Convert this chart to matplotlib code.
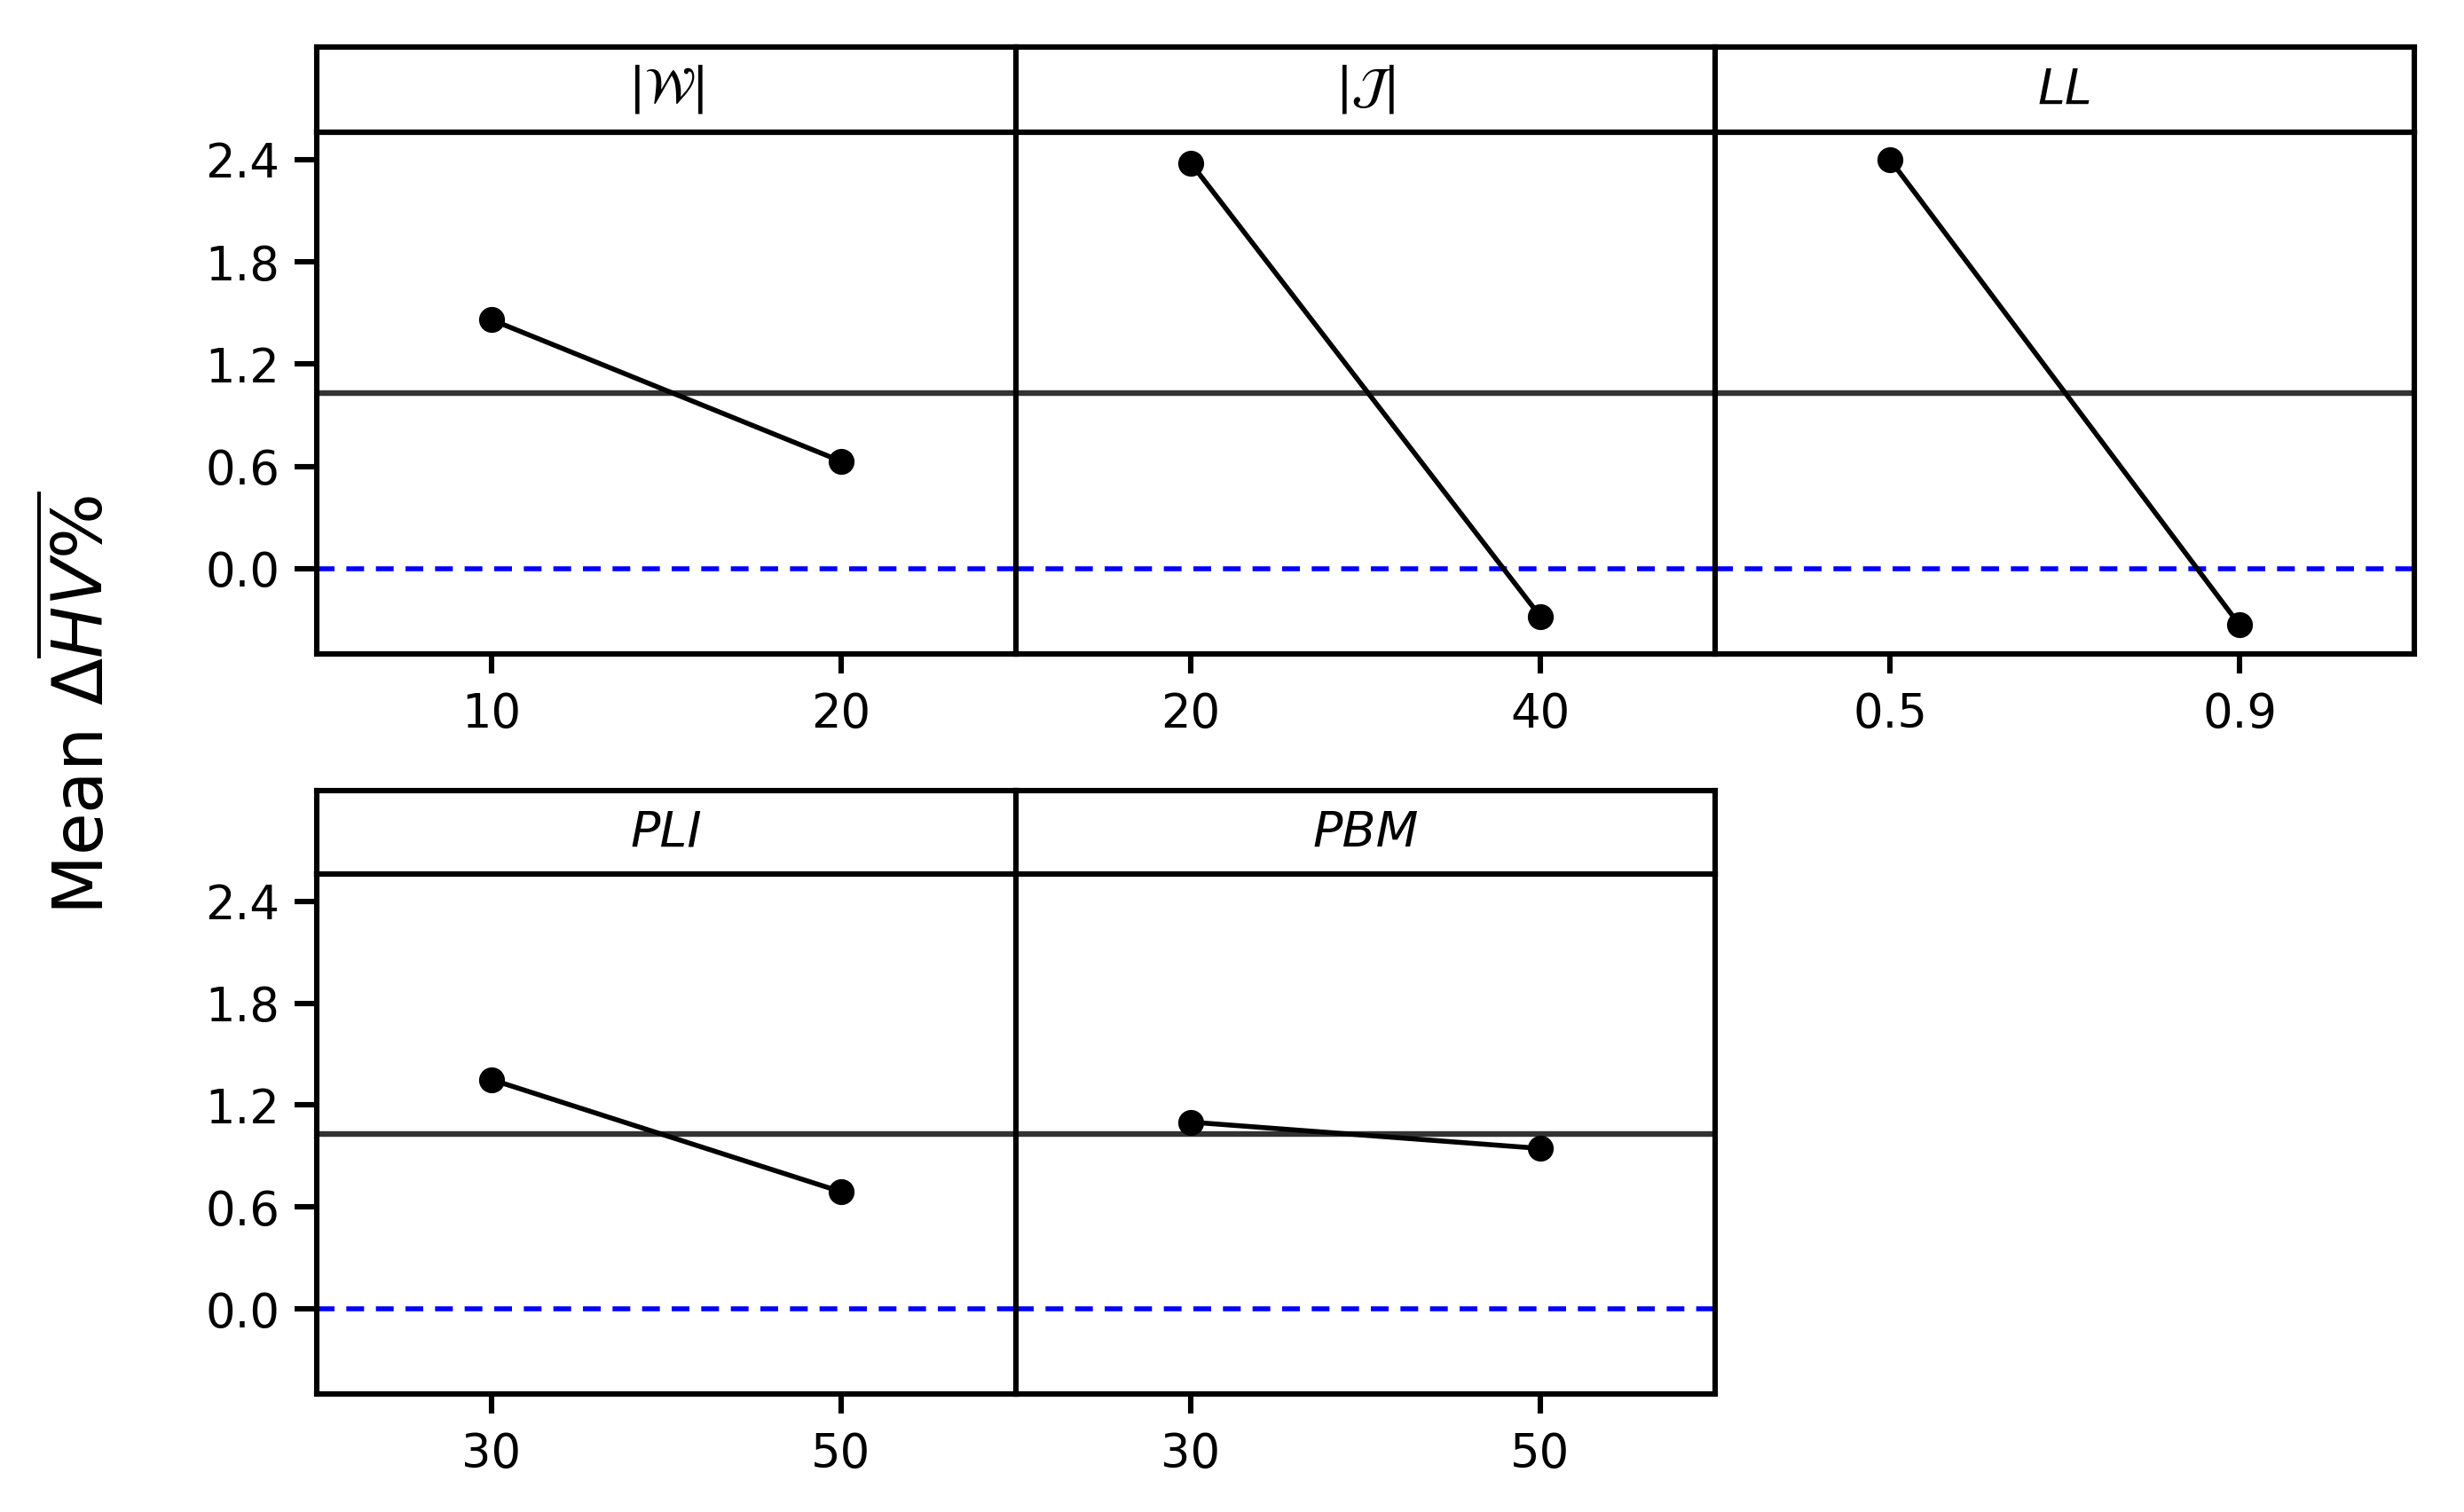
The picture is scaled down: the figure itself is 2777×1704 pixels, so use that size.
import matplotlib
matplotlib.use("Agg")
import matplotlib.pyplot as plt
import numpy as np

# ---- data ----
factor_labels = [r"$|\mathcal{W}|$", r"$|\mathcal{J}|$", "LL", "PLI", "PBM"]
factor_is_math = [True, True, False, False, False]
level_labels = [["10", "20"], ["20", "40"], ["0.5", "0.9"], ["30", "50"], ["30", "50"]]
level_means_W = [1.46, 0.63]
level_means_J = [2.38, -0.28]
level_means_LL = [2.40, -0.33]
level_means_PLI = [1.35, 0.69]
level_means_PBM = [1.10, 0.945]
all_means = [level_means_W, level_means_J, level_means_LL, level_means_PLI, level_means_PBM]
grand_mean = 1.03
yticks = [0.0, 0.6, 1.2, 1.8, 2.4]

plt.rcParams['font.family'] = ['DejaVu Sans']
plt.rcParams['mathtext.fontset'] = 'dejavusans'

W, H = 2777, 1704
dpi = 200
fig = plt.figure(figsize=(W / dpi, H / dpi), dpi=dpi)

col_x = [357, 1145, 1933]
col_w = 788
rows = [(149, 737, 53), (985, 1571, 891)]  # plot top, plot bottom, strip top

spine_lw = 2.2

def fx(px):
    return px / W

def fy(py):
    return 1 - py / H

for i, means in enumerate(all_means):
    r, c = divmod(i, 3)
    top, bot, stop = rows[r]
    x0 = col_x[c]
    ax = fig.add_axes([fx(x0), fy(bot), col_w / W, (bot - top) / H])
    sax = fig.add_axes([fx(x0), fy(top), col_w / W, (top - stop) / H])

    xs = np.arange(1, len(means) + 1)
    ax.axhline(0.0, color='#0000ff', lw=2.0, linestyle=(0, (3.6, 2.4)), zorder=1)
    ax.axhline(grand_mean, color='#333333', lw=2.3, zorder=2)
    ax.plot(xs, means, color='black', lw=2.0, marker='o', markersize=9.5, zorder=3)
    ax.set_xlim(0.5, 2.5)
    ax.set_ylim(-0.5, 2.56)
    ax.set_xticks(xs)
    ax.set_xticklabels(level_labels[i], fontsize=19)
    ax.set_yticks(yticks)
    if c == 0:
        ax.set_yticklabels([f"{v:.1f}" for v in yticks], fontsize=19)
        ax.tick_params(axis='y', length=9, width=spine_lw, pad=6)
    else:
        ax.tick_params(axis='y', left=False, labelleft=False)
    ax.tick_params(axis='x', length=8, width=spine_lw, pad=7)
    for s in ax.spines.values():
        s.set_linewidth(spine_lw)

    sax.set_xticks([])
    sax.set_yticks([])
    for s in sax.spines.values():
        s.set_linewidth(spine_lw)
    if factor_is_math[i]:
        sax.text(0.5, 0.5, factor_labels[i], ha='center', va='center', fontsize=20,
                 transform=sax.transAxes)
    else:
        sax.text(0.5, 0.5, factor_labels[i], ha='center', va='center', fontsize=20,
                 style='italic', transform=sax.transAxes)

fig.text(fx(92), fy(792), r"Mean $\Delta\overline{HV\%}$", rotation=90,
         ha='center', va='center', fontsize=28)

fig.savefig("out.png", dpi=dpi)
